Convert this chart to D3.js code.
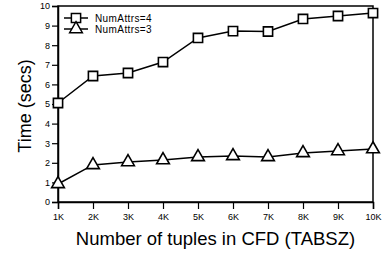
<!DOCTYPE html>
<html lang="en">
<head>
<meta charset="UTF-8">
<title>Time vs TABSZ</title>
<script src="https://d3js.org/d3.v7.min.js"></script>
<style>
    body { margin: 0; padding: 0; background: #fff; }
    text { font-family: "Liberation Sans", Arial, sans-serif; }
</style>
</head>
<body>
<div id="main"></div>
<script>
    var tupleLabels = ['1K', '2K', '3K', '4K', '5K', '6K', '7K', '8K', '9K', '10K'];
    var attrs4 = [5.05, 6.43, 6.58, 7.14, 8.37, 8.72, 8.70, 9.34, 9.49, 9.64];
    var attrs3 = [0.92, 1.89, 2.04, 2.14, 2.30, 2.35, 2.30, 2.50, 2.60, 2.70];
    var yTicks = [0, 1, 2, 3, 4, 5, 6, 7, 8, 9, 10];
    var seriesNames = ['NumAttrs=4', 'NumAttrs=3'];

    var width = 385, height = 255;
    var margin = { left: 58, right: 12, top: 6, bottom: 53 };

    var svg = d3.select('#main').append('svg')
        .attr('width', width)
        .attr('height', height);

    var x = d3.scalePoint()
        .domain(tupleLabels)
        .range([margin.left, width - margin.right]);

    var y = d3.scaleLinear()
        .domain([0, 10])
        .range([height - margin.bottom, margin.top]);

    // frame
    svg.append('rect')
        .attr('x', margin.left).attr('y', margin.top)
        .attr('width', width - margin.right - margin.left)
        .attr('height', height - margin.bottom - margin.top)
        .attr('fill', 'none').attr('stroke', '#000').attr('stroke-width', 1.5);

    var xAxis = svg.append('g')
        .attr('transform', 'translate(0,' + (height - margin.bottom) + ')')
        .call(d3.axisBottom(x).tickSize(7).tickPadding(5));
    var yAxis = svg.append('g')
        .attr('transform', 'translate(' + margin.left + ',0)')
        .call(d3.axisLeft(y).tickValues(yTicks).tickSize(6).tickPadding(2));

    [xAxis, yAxis].forEach(function(a) {
        a.select('.domain').attr('stroke-width', 1.5);
        a.selectAll('.tick line').attr('stroke-width', 1.2);
        a.selectAll('text').attr('font-size', 9).attr('fill', '#000')
            .attr('font-family', '"Liberation Sans", Arial, sans-serif');
    });

    svg.append('text')
        .attr('x', (margin.left + width - margin.right) / 2)
        .attr('y', 245)
        .attr('text-anchor', 'middle')
        .attr('font-size', 18.5)
        .text('Number of tuples in CFD (TABSZ)');

    svg.append('text')
        .attr('transform', 'translate(31,' + ((margin.top + height - margin.bottom) / 2 + 2) + ') rotate(-90)')
        .attr('text-anchor', 'middle')
        .attr('font-size', 18)
        .text('Time (secs)');

    var line = d3.line()
        .x(function(d, i) { return x(tupleLabels[i]); })
        .y(function(d) { return y(d); });

    var square = d3.symbol().type(d3.symbolSquare).size(85);
    var triangle = d3.symbol().type(d3.symbolTriangle).size(70);

    function drawSeries(vals, sym) {
        svg.append('path')
            .datum(vals)
            .attr('d', line)
            .attr('fill', 'none')
            .attr('stroke', '#000')
            .attr('stroke-width', 1.5);
        svg.selectAll(null)
            .data(vals)
            .enter()
            .append('path')
            .attr('d', sym)
            .attr('transform', function(d, i) { return 'translate(' + x(tupleLabels[i]) + ',' + y(d) + ')'; })
            .attr('fill', '#fff')
            .attr('stroke', '#000')
            .attr('stroke-width', 1.6);
    }

    drawSeries(attrs4, square);
    drawSeries(attrs3, triangle);

    // legend
    var legend = svg.append('g');
    [square, triangle].forEach(function(sym, i) {
        var ly = 18 + i * 11;
        legend.append('line')
            .attr('x1', 64).attr('x2', 88)
            .attr('y1', ly).attr('y2', ly)
            .attr('stroke', '#000').attr('stroke-width', 1.5);
        legend.append('path')
            .attr('d', sym)
            .attr('transform', 'translate(76,' + ly + ')')
            .attr('fill', '#fff').attr('stroke', '#000').attr('stroke-width', 1.5);
        legend.append('text')
            .attr('x', 95).attr('y', ly + 3.5)
            .attr('font-size', 10)
            .attr('letter-spacing', 0.4)
            .text(seriesNames[i]);
    });
</script>
</body>
</html>
